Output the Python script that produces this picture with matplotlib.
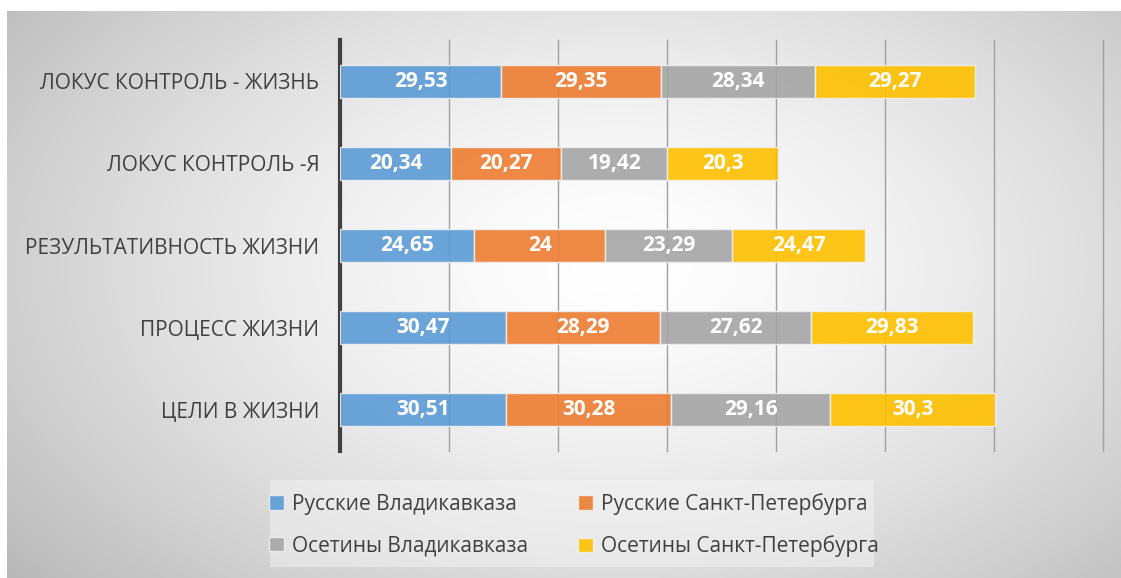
import numpy as np
import matplotlib.pyplot as plt
from matplotlib.patches import Patch

plt.rcParams['font.family'] = ['Open Sans', 'DejaVu Sans']

categories = ['ЦЕЛИ В ЖИЗНИ', 'ПРОЦЕСС ЖИЗНИ', 'РЕЗУЛЬТАТИВНОСТЬ ЖИЗНИ',
              'ЛОКУС КОНТРОЛЬ -Я', 'ЛОКУС КОНТРОЛЬ - ЖИЗНЬ']
series_names = ['Русские Владикавказа', 'Русские Санкт-Петербурга',
                'Осетины Владикавказа', 'Осетины Санкт-Петербурга']
rus_vlad = [30.51, 30.47, 24.65, 20.34, 29.53]
rus_spb = [30.28, 28.29, 24, 20.27, 29.35]
oset_vlad = [29.16, 27.62, 23.29, 19.42, 28.34]
oset_spb = [30.3, 29.83, 24.47, 20.3, 29.27]
colors = ['#5B9BD5', '#ED7D31', '#A5A5A5', '#FFC000']

W, H = 1121, 578
fig = plt.figure(figsize=(W / 100, H / 100), dpi=100)
fig.patch.set_facecolor('white')

# gradient background panel
bg = fig.add_axes([7 / W, 0, 1 - 7 / W, 1 - 11 / H])
yy, xx = np.mgrid[0:1:300j, 0:1:600j]
r = np.sqrt(((xx - 0.55) / 0.7) ** 2 + ((yy - 0.45) / 0.85) ** 2)
shade = 1 - 0.27 * np.clip(r, 0, 1.1) ** 1.5
bg.imshow(np.dstack([shade] * 3), aspect='auto', extent=[0, 1, 0, 1])
bg.axis('off')

# legend box background
lg = fig.add_axes([270 / W, 1 - 567 / H, (874 - 270) / W, (567 - 480) / H])
lg.set_facecolor('#f4f4f4')
lg.patch.set_alpha(0.5)
lg.set_xticks([]); lg.set_yticks([])
for s in lg.spines.values():
    s.set_visible(False)

ax = fig.add_axes([340 / W, 1 - 451 / H, (1103 - 340) / W, (451 - 40) / H])
ax.patch.set_alpha(0)

y = np.arange(len(categories))
left = np.zeros(len(categories))
all_vals = [rus_vlad, rus_spb, oset_vlad, oset_spb]
for vals, c, name in zip(all_vals, colors, series_names):
    vals = np.array(vals)
    ax.barh(y, vals, left=left, height=0.4, color=c, alpha=0.9,
            edgecolor='#f0f0f0', linewidth=1, label=name, zorder=3)
    for yi, l, v in zip(y, left, vals):
        txt = ('%g' % v).replace('.', ',')
        ax.text(l + v / 2, yi, txt, ha='center', va='center', color='white',
                fontsize=15, fontweight='bold', zorder=4)
    left += vals

ax.set_xlim(0, 140)
ax.set_ylim(-0.5, 4.5)
ax.set_xticks(np.arange(20, 141, 20))
ax.set_xticklabels([])
ax.tick_params(axis='both', length=0)
ax.grid(axis='x', color='#a0a0a0', linewidth=1, zorder=1)
for gl in ax.get_xgridlines():
    gl.set_clip_on(False)
ax.set_yticks(y)
ax.set_yticklabels(categories, fontsize=15, color='#404040')
ax.tick_params(axis='y', pad=15)
for s in ['top', 'right', 'bottom']:
    ax.spines[s].set_visible(False)
ax.spines['left'].set_color('#404040')
ax.spines['left'].set_linewidth(3)

handles = [Patch(facecolor=c, alpha=0.9, edgecolor='#f0f0f0') for c in colors]
order = [0, 2, 1, 3]
fig.legend([handles[i] for i in order], [series_names[i] for i in order],
           loc='center', ncol=2,
           bbox_to_anchor=(574 / W, 1 - 525 / H), frameon=False,
           fontsize=15, labelcolor='#404040', handlelength=0.7,
           handleheight=0.7, handletextpad=0.4, columnspacing=2.4,
           labelspacing=1.0)

fig.savefig('out.png', dpi=100)
